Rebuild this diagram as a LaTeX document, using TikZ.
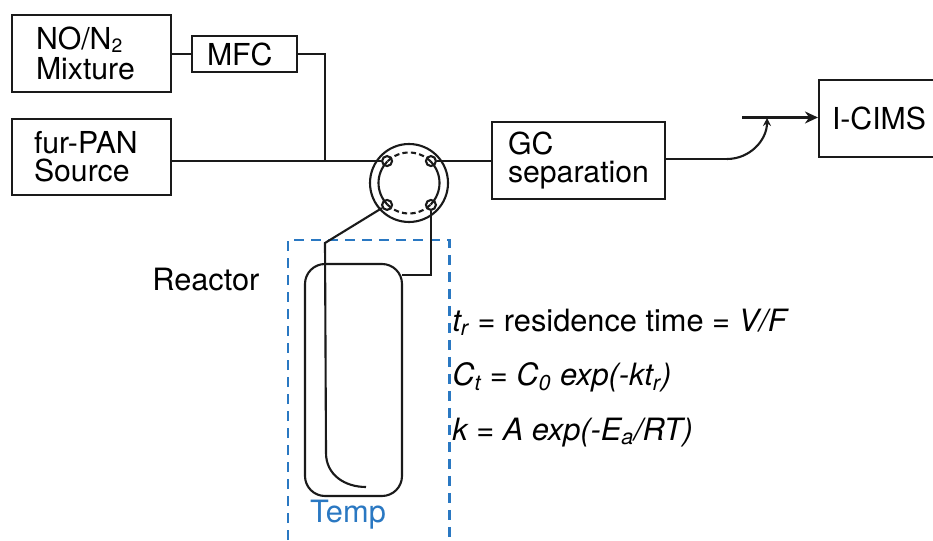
\documentclass[tikz,border=0pt]{standalone}
\usepackage{fontspec}
\setmainfont{TeX Gyre Heros}
\usetikzlibrary{calc,arrows.meta}
\definecolor{TempBlue}{HTML}{2A78C2}
\definecolor{LineInk}{HTML}{1A1A1A}
\tikzset{
  unitbox/.style={draw=LineInk, line width=1.2pt, align=left, inner ysep=0pt, font=\fontsize{17.2}{16}\selectfont},
  portring/.style={circle, draw=LineInk, line width=1.2pt, minimum size=0.2cm, inner sep=0pt},
  pipe/.style={draw=LineInk, line width=1.2pt},
  plainlabel/.style={anchor=west, inner sep=0pt, font=\fontsize{17.5}{17}\selectfont},
}

\begin{document}
\begin{tikzpicture}
    % =========================================
    % 1. Canvas
    % =========================================
    \useasboundingbox (0,0) rectangle (18.66,10.8);

    % =========================================
    % 2. Gas units
    % =========================================
    \node[unitbox, inner xsep=0.48cm, text width=2.22cm, minimum height=1.54cm] (MixBox) at (1.83,9.73) {NO/N\raisebox{-0.08em}{\fontsize{11}{11}\selectfont 2}\\[1pt]Mixture};
    \node[unitbox, inner xsep=0.3cm, text width=1.5cm, minimum height=0.72cm] (MfcBox) at (4.89,9.72) {MFC};
    \node[unitbox, inner xsep=0.44cm, text width=2.3cm, minimum height=1.52cm] (FurBox) at (1.83,7.66) {fur-PAN\\Source};
    \node[unitbox, inner xsep=0.32cm, text width=2.82cm, minimum height=1.54cm] (GcBox) at (11.57,7.59) {GC\\separation};
    \node[unitbox, inner xsep=0.26cm, text width=1.92cm, minimum height=1.54cm] (CimsBox) at (17.6,8.43) {I-CIMS};

    % =========================================
    % 3. Valve
    % =========================================
    \node[circle, draw=LineInk, line width=1.2pt, minimum size=1.56cm, inner sep=0pt] (Valve) at (8.18,7.14) {};
    \node[portring] (PortNW) at ($(Valve)+(135:0.62)$) {};
    \node[portring] (PortNE) at ($(Valve)+(45:0.62)$) {};
    \node[portring] (PortSW) at ($(Valve)+(225:0.62)$) {};
    \node[portring] (PortSE) at ($(Valve)+(315:0.62)$) {};

    % solid sides, dashed top and bottom
    \draw[pipe] ($(Valve)+(-45:0.61)$) arc (-45:45:0.61);
    \draw[pipe] ($(Valve)+(135:0.61)$) arc (135:225:0.61);
    \draw[pipe, dash pattern=on 3pt off 1.8pt] ($(Valve)+(45:0.61)$) arc (45:135:0.61);
    \draw[pipe, dash pattern=on 3pt off 1.8pt] ($(Valve)+(225:0.61)$) arc (225:315:0.61);

    % =========================================
    % 4. Reactor
    % =========================================
    \node[draw=LineInk, line width=1.2pt, rounded corners=0.4cm, minimum width=1.94cm, minimum height=4.64cm] (Reactor) at (7.07,3.2) {};
    \draw[TempBlue, line width=1.7pt, dash pattern=on 0.2cm off 0.14cm] (5.76,0) -- (5.76,6) -- (8.98,6) -- (8.98,0);
    \node[TempBlue, font=\fontsize{17.5}{17}\selectfont] (TempLabel) at (6.96,0.5) {Temp};
    \node[plainlabel] (ReactorLabel) at (3.04,5.21) {Reactor};

    % =========================================
    % 5. Connectors
    % =========================================
    \coordinate (Junction) at (6.5,7.6);
    \coordinate (TubeBend) at (6.5,5.94);
    \coordinate (TubeFoot) at (6.52,1.74);
    \coordinate (TubeEnd) at (7.32,1.06);
    \coordinate (ReactorIn) at (8.03,5.3);
    \coordinate (CurveStart) at (14.54,7.62);
    \coordinate (CurveEnd) at (15.34,8.44);
    \coordinate (ArrowStart) at (14.84,8.45);

    \draw[pipe] (MixBox.east |- MfcBox) -- (MfcBox.west);
    \draw[pipe] (MfcBox.east) -| (Junction);
    \draw[pipe] (FurBox.east |- PortNW) -- (PortNW);
    \draw[pipe] (PortNE) -- (GcBox.west |- PortNE);
    \draw[pipe] (PortSW) -- (TubeBend) -- (TubeFoot) .. controls (6.52,1.3) and (6.9,1.06) .. (TubeEnd);
    \draw[pipe] (PortSE) |- (ReactorIn);
    \draw[pipe] (GcBox.east |- CurveStart) -- (CurveStart);
    \draw[pipe, -{Stealth[length=0.16cm,width=0.16cm]}] (CurveStart) .. controls (15,7.62) and (15.34,8) .. (CurveEnd);
    \draw[pipe, line width=1.5pt, -{Stealth[length=0.26cm,width=0.24cm]}] (ArrowStart) -- (CimsBox.west |- ArrowStart);

    % =========================================
    % 6. Equations
    % =========================================
    \node[plainlabel] (EqTime) at (9.04,4.35) {\textit{t\textsubscript{r}} = residence time = \textit{V/F}};
    \node[plainlabel] (EqConc) at (9.04,3.25) {\textit{C\textsubscript{t} = C\textsubscript{0} exp(-kt\textsubscript{r})}};
    \node[plainlabel] (EqRate) at (9.04,2.15) {\textit{k = A exp(-E\textsubscript{a}/RT)}};

\end{tikzpicture}
\end{document}
